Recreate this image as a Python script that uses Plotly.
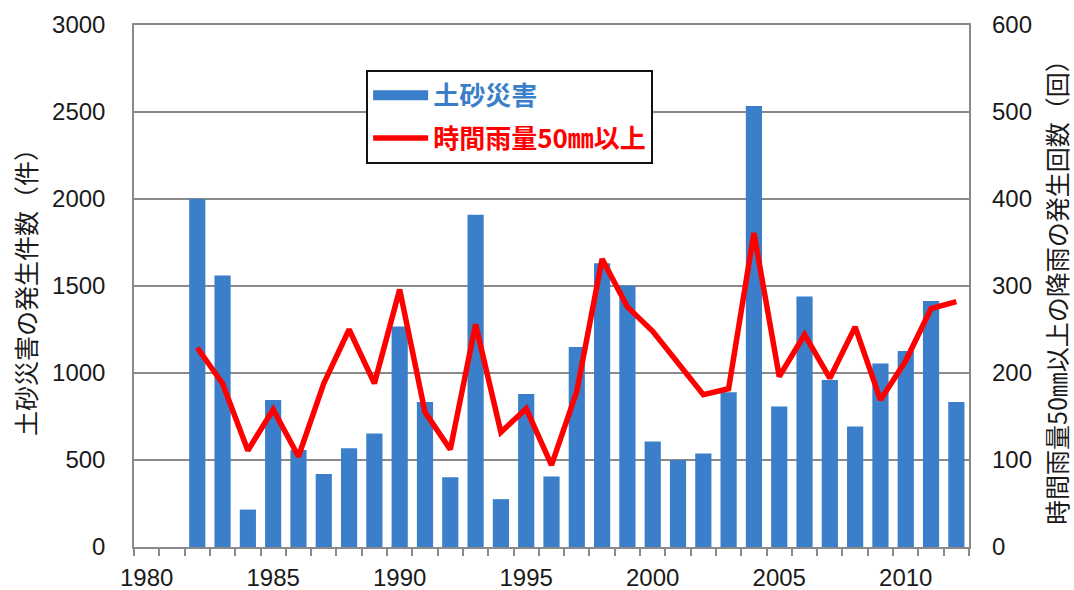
import plotly.graph_objects as go

# Annual counts: sediment disasters (bars, left axis) and
# hourly rainfall >= 50mm events (line, right axis)
years = list(range(1982, 2013))
disasters = [2000, 1560, 215, 845, 557, 420, 567, 652, 1267, 834,
             401, 1910, 275, 879, 405, 1150, 1631, 1501, 606, 500,
             537, 890, 2534, 808, 1440, 960, 693, 1055, 1126, 1414, 834]
heavy_rain = [229, 188, 111, 158, 104, 188, 250, 188, 296, 155,
              112, 256, 132, 159, 94, 179, 331, 276, 248, 211,
              175, 182, 361, 196, 244, 194, 253, 169, 214, 274, 282]

x_tick_years = [1980, 1985, 1990, 1995, 2000, 2005, 2010]
left_ticks = [0, 500, 1000, 1500, 2000, 2500, 3000]
right_ticks = [0, 100, 200, 300, 400, 500, 600]

bar_name = "土砂災害"
line_name = "時間雨量50㎜以上"
left_title = "土砂災害の発生件数（件）"
right_title = "時間雨量50㎜以上の降雨の発生回数（回）"

BLUE = "#3b7fca"
RED = "#ff0000"
GRID = "#8a8a8a"
num_font = "Liberation Sans, Arial, sans-serif"
cjk_font = "Noto Sans CJK JP, sans-serif"

fig = go.Figure()

fig.add_trace(go.Bar(
    x=years, y=disasters, marker=dict(color=BLUE, line=dict(width=0)),
    width=0.64, showlegend=False, yaxis="y",
))

# Legend entry for the bars, drawn as a thick band
fig.add_trace(go.Scatter(
    x=[None], y=[None], mode="lines",
    line=dict(color=BLUE, width=10),
    name=f"<b><span style='color:{BLUE}'>{bar_name}</span></b>",
    legendgroup="a",
))

fig.add_trace(go.Scatter(
    x=years, y=heavy_rain, mode="lines",
    line=dict(color=RED, width=5.5),
    name=f"<b><span style='color:{RED}'>{line_name}</span></b>",
    yaxis="y2", legendgroup="b",
))

fig.update_layout(
    width=1074, height=590,
    margin=dict(l=134, r=105, t=25, b=43),
    paper_bgcolor="white", plot_bgcolor="white",
    font=dict(family=num_font, size=24, color="#1a1a1a"),
    xaxis=dict(
        range=[1979.5, 2012.5], automargin=False,
        tickmode="array", tickvals=x_tick_years,
        ticktext=[str(v) for v in x_tick_years],
        ticks="", showgrid=False,
        showline=True, linecolor=GRID, linewidth=1.5, mirror=True,
        ticklabelstandoff=8,
        tickfont=dict(family=num_font, size=24),
        minor=dict(ticks="outside", ticklen=7, tickwidth=1.5,
                   tickcolor=GRID, tick0=1979.5, dtick=1, showgrid=False),
        zeroline=False,
    ),
    yaxis=dict(
        range=[0, 3000], tickmode="array", tickvals=left_ticks,
        automargin=False,
        showgrid=True, gridcolor=GRID, gridwidth=1.5,
        showline=True, linecolor=GRID, linewidth=1.5, mirror=True,
        ticks="", ticklabelstandoff=22, zeroline=False,
        tickfont=dict(family=num_font, size=24),
        title=dict(text=left_title, standoff=8,
                   font=dict(family=cjk_font, size=25)),
    ),
    yaxis2=dict(
        range=[0, 600], tickmode="array", tickvals=right_ticks,
        automargin=False,
        overlaying="y", side="right", showgrid=False,
        showline=False, ticks="", ticklabelstandoff=22, zeroline=False,
        tickfont=dict(family=num_font, size=24),
        title=dict(text=right_title, standoff=24,
                   font=dict(family=cjk_font, size=25)),
    ),
    legend=dict(
        x=0.278, y=0.914, xanchor="left", yanchor="top",
        bgcolor="white", bordercolor="#111111", borderwidth=2,
        font=dict(family=cjk_font, size=26),
        traceorder="grouped", tracegroupgap=6, itemwidth=55,
    ),
    bargap=0.36,
)

fig.write_html("out.html")
